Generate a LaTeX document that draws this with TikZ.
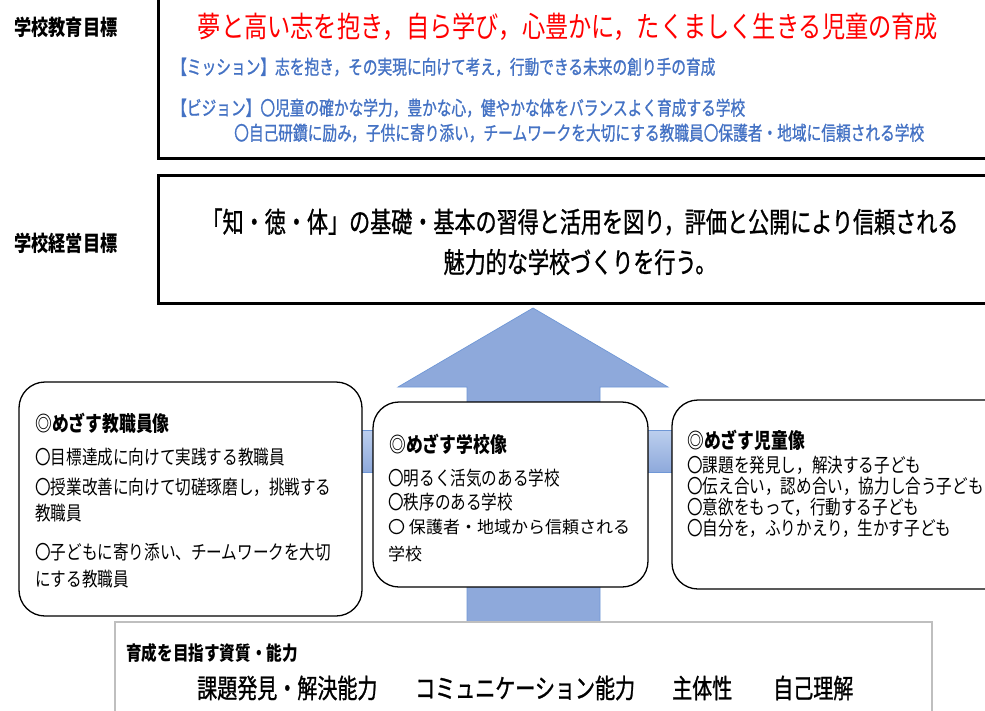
\documentclass[tikz,border=0pt]{standalone}
\usepackage{fontspec}
\newfontfamily\jp[FakeStretch=0.8]{Noto Sans CJK JP}
\newfontfamily\jpm[FakeStretch=0.75, FakeBold=1]{Noto Sans CJK JP}
\newfontfamily\jpw{Noto Sans CJK JP}
\definecolor{redt}{HTML}{FF0000}
\definecolor{bluet}{HTML}{4472C4}
\definecolor{arrowfill}{HTML}{8EA9DB}
\definecolor{arrowtop}{HTML}{BCCFEE}
\definecolor{arrowline}{HTML}{6F97D6}
\definecolor{grayline}{HTML}{BFBFBF}
\tikzset{
  txt/.style={inner sep=0pt, anchor=west},
  sidelabel/.style={txt, font=\jp\bfseries\fontsize{21.5}{24}\selectfont},
  bluetext/.style={txt, text=bluet, font=\jpm\fontsize{19.6}{22}\selectfont},
  boxhead/.style={txt, font=\jp\bfseries\fontsize{21}{24}\selectfont},
  boxline/.style={txt, font=\jp\fontsize{19.5}{22}\selectfont},
  boxwide/.style={txt, font=\jpw\fontsize{17}{20}\selectfont},
  goaltext/.style={inner sep=0pt, font=\jpm\fontsize{28.1}{31}\selectfont},
  abil/.style={txt, font=\jpm\fontsize{26.7}{29}\selectfont},
  thickbox/.style={draw=black, line width=3pt, fill=white},
  roundbox/.style={draw=black, line width=1.3pt, fill=white, rounded corners=26pt},
  graybox/.style={draw=grayline, line width=2pt, fill=white},
  bigarrow/.style={fill=arrowfill, draw=arrowline, line width=0.7pt},
}
\begin{document}
\begin{tikzpicture}[x=1pt,y=-1pt]
\useasboundingbox (0,0) rectangle (985,710);
\clip (0,0) rectangle (985,710);
\fill[white] (0,0) rectangle (985,710);

% big upward arrow
\draw[bigarrow] (467,640) -- (467,387) -- (398,387) -- (533,308) -- (668,387) -- (600,387) -- (600,640) -- cycle;
% horizontal bar
\shade[top color=arrowtop, bottom color=arrowfill, draw=arrowline, line width=0.7pt] (350,430) rectangle (690,472);

% top boxes
\draw[thickbox] (158.5,-10) rectangle (1010,158.5);
\draw[thickbox] (158.5,175.5) rectangle (1010,303.5);

% three rounded boxes
\draw[roundbox] (19,382) rectangle (362,616);
\draw[roundbox] (373,402) rectangle (648,587);
\draw[roundbox] (672,400) rectangle (1030,589);

% bottom box
\draw[graybox] (115,622) rectangle (932,740);

% side labels
\node[sidelabel] (lab1) at (14,27) {学校教育目標};
\node[sidelabel] (lab2) at (14,243) {学校経営目標};

% top box texts
\node[inner sep=0pt, text=redt, font=\jp\fontsize{29}{32}\selectfont] (title) at (568,27) {夢と高い志を抱き，自ら学び，心豊かに，たくましく生きる児童の育成};
\node[bluetext] (mission) at (172,67) {【ミッション】志を抱き，その実現に向けて考え，行動できる未来の創り手の育成};
\node[bluetext] (vision1) at (172,108) {【ビジョン】〇児童の確かな学力，豊かな心，健やかな体をバランスよく育成する学校};
\node[bluetext] (vision2) at (234,133) {〇自己研鑽に励み，子供に寄り添い，チームワークを大切にする教職員〇保護者・地域に信頼される学校};

% management goal
\node[goaltext] (goal1) at (580,222) {「知・徳・体」の基礎・基本の習得と活用を図り，評価と公開により信頼される};
\node[goaltext] (goal2) at (580,262) {魅力的な学校づくりを行う。};

% staff box
\node[boxhead] (sh) at (35,423) {◎めざす教職員像};
\node[boxline] (s1) at (35,457) {〇目標達成に向けて実践する教職員};
\node[boxline] (s2) at (35,487) {〇授業改善に向けて切磋琢磨し，挑戦する};
\node[boxline] (s3) at (35,513) {教職員};
\node[boxline] (s4) at (35,552) {〇子どもに寄り添い、チームワークを大切};
\node[boxline] (s5) at (35,579) {にする教職員};

% school box
\node[boxhead] (ch) at (389,444) {◎めざす学校像};
\node[boxline] (c1) at (388,478) {〇明るく活気のある学校};
\node[boxline] (c2) at (388,502) {〇秩序のある学校};
\node[boxwide] (c3) at (388,527) {〇 保護者・地域から信頼される};
\node[boxwide] (c4) at (388,554) {学校};

% child box
\node[boxhead] (kh) at (687,440) {◎めざす児童像};
\node[boxline] (k1) at (687,465) {〇課題を発見し，解決する子ども};
\node[boxline] (k2) at (687,486) {〇伝え合い，認め合い，協力し合う子ども};
\node[boxline] (k3) at (687,507) {〇意欲をもって，行動する子ども};
\node[boxline] (k4) at (687,528) {〇自分を，ふりかえり，生かす子ども};

% abilities
\node[txt, font=\jp\bfseries\fontsize{19.5}{22}\selectfont] (ab) at (126,653) {育成を目指す資質・能力};
\node[abil] (a1) at (197,688) {課題発見・解決能力};
\node[abil] (a2) at (415,688) {コミュニケーション能力};
\node[abil] (a3) at (672,688) {主体性};
\node[abil] (a4) at (773,688) {自己理解};
\end{tikzpicture}
\end{document}
